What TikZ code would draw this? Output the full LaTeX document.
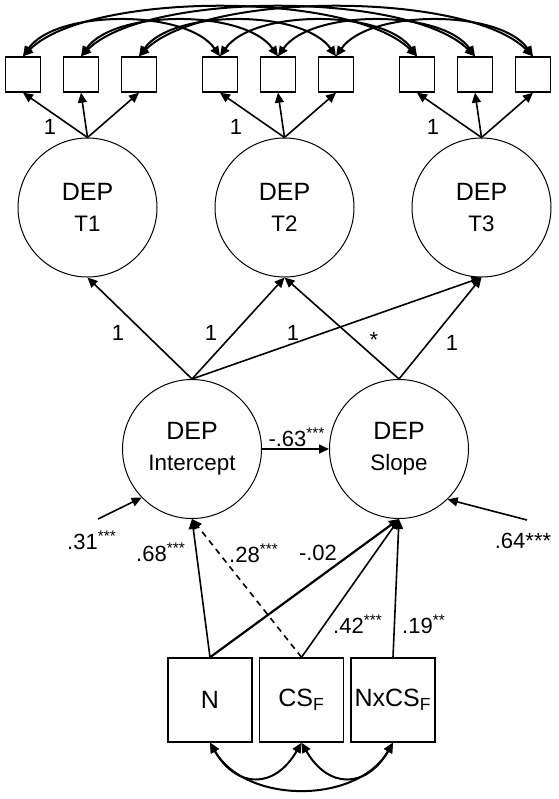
\documentclass[tikz,border=0pt]{standalone}
\usepackage{fontspec}
\setmainfont{Liberation Sans}
\usetikzlibrary{arrows.meta}

\begin{document}
\begin{tikzpicture}[x=0.5pt,y=-0.5pt,>={Triangle[length=5pt,width=4.5pt]}]

\tikzstyle{ind}=[rectangle,draw,line width=0.7pt,minimum size=17.5pt,inner sep=0pt]
\tikzstyle{latent}=[circle,draw,line width=0.5pt,minimum size=69.5pt,inner sep=0pt,align=center,font=\fontsize{12.5}{15.5}\selectfont]
\tikzstyle{obs}=[rectangle,draw,line width=0.7pt,minimum size=42pt,inner sep=0pt,font=\fontsize{12.5}{15}\selectfont]
\tikzstyle{coef}=[inner sep=0pt,font=\fontsize{11}{13}\selectfont]
\tikzstyle{reg}=[->,line width=0.8pt]
\tikzstyle{cov}=[<->,line width=1pt]

\useasboundingbox (0,0) rectangle (558,799);

% indicators
\node[ind] (i1) at ( 23,74.5) {} ;
\node[ind] (i2) at ( 81,74.5) {} ;
\node[ind] (i3) at (139,74.5) {} ;
\node[ind] (i4) at (220,74.5) {} ;
\node[ind] (i5) at (278,74.5) {} ;
\node[ind] (i6) at (336,74.5) {} ;
\node[ind] (i7) at (417,74.5) {} ;
\node[ind] (i8) at (475,74.5) {} ;
\node[ind] (i9) at (533,74.5) {} ;

% latent factors
\node[latent] (T1) at ( 87.5,207.5) {DEP\\{\fontsize{11.2}{15.5}\selectfont T1}} ;
\node[latent] (T2) at (284.5,207.5) {DEP\\{\fontsize{11.2}{15.5}\selectfont T2}} ;
\node[latent] (T3) at (481.5,207.5) {DEP\\{\fontsize{11.2}{15.5}\selectfont T3}} ;
\node[latent] (I)  at (192,449) {DEP\\{\fontsize{11.2}{15.5}\selectfont Intercept}} ;
\node[latent] (S)  at (399,449) {DEP\\{\fontsize{11.2}{15.5}\selectfont Slope}} ;

% predictors
\node[obs] (N)    at (210,700)   {N} ;
\node[obs] (CS)   at (301.5,700) {CS\textsubscript{F}} ;
\node[obs] (NxCS) at (393,700)   {NxCS\textsubscript{F}} ;

\coordinate (eI) at (98,519) ;
\coordinate (eS) at (527,520) ;

% residual covariances
\foreach \a/\b in {1/4,2/5,3/6,4/7,5/8,6/9}
  \draw[cov] (i\a.north) to[out=55,in=125,looseness=0.75] (i\b.north);
\foreach \a/\b in {1/7,2/8,3/9}
  \draw[cov] (i\a.north) to[out=45,in=135,looseness=0.6] (i\b.north);

% loadings
\draw[reg] (T1.north) -- (i1.south);
\draw[reg] (T1.north) -- (i2.south);
\draw[reg] (T1.north) -- (i3.south);
\draw[reg] (T2.north) -- (i4.south);
\draw[reg] (T2.north) -- (i5.south);
\draw[reg] (T2.north) -- (i6.south);
\draw[reg] (T3.north) -- (i7.south);
\draw[reg] (T3.north) -- (i8.south);
\draw[reg] (T3.north) -- (i9.south);

\node[coef] (lT1) at ( 50,127) {1} ;
\node[coef] (lT2) at (236,127) {1} ;
\node[coef] (lT3) at (433,127) {1} ;

% growth part
\draw[reg] (I.north) -- (T1.south);
\draw[reg] (I.north) -- (T2.south);
\draw[reg] (I.north) -- (T3.south);
\draw[reg] (S.north) -- (T2.south);
\draw[reg] (S.north) -- (T3.south);

\node[coef] (lI1) at (118,333) {1} ;
\node[coef] (lI2) at (211,333) {1} ;
\node[coef] (lI3) at (293,333) {1} ;
\node[coef] (lS2) at (374,340) {*} ;
\node[coef] (lS3) at (452,343) {1} ;

\draw[reg] (I.east) -- (S.west);
\node[coef] (lIS) at (297,437) {-.63\textsuperscript{***}} ;

\draw[reg] (eI) -- (I.224);
\draw[reg] (eS) -- (S.314);
\node[coef] (leI) at (92,540)  {.31\textsuperscript{***}} ;
\node[coef] (leS) at (523,541) {.64***} ;

% predictor paths
\draw[reg] (N.north) -- (I.south);
\draw[reg,line width=1.1pt] (N.north) -- (S.south);
\draw[reg,dash pattern=on 3pt off 2.5pt] (CS.north) -- (I.south);
\draw[reg] (CS.north) -- (S.south);
\draw[reg] (NxCS.north) -- (S.south);

\node[coef] (lNI)  at (161,552) {.68\textsuperscript{***}} ;
\node[coef] (lCI)  at (254,553) {.28\textsuperscript{***}} ;
\node[coef] (lNS)  at (318,553) {-.02} ;
\node[coef] (lCS)  at (358,624) {.42\textsuperscript{***}} ;
\node[coef] (lXS)  at (424,624) {.19\textsuperscript{**}} ;

% predictor covariances
\draw[cov] (N.south) to[out=-60,in=-120,looseness=1.5] (CS.south);
\draw[cov] (CS.south) to[out=-60,in=-120,looseness=1.5] (NxCS.south);
\draw[cov] (N.south) to[out=-60,in=-120,looseness=1.0] (NxCS.south);

\end{tikzpicture}
\end{document}
